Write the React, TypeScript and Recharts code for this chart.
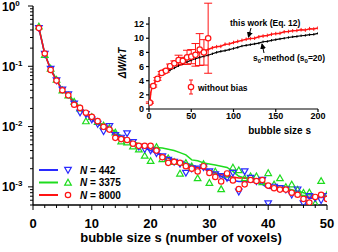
import React from "react";
import { LineChart, Line, XAxis, YAxis, ErrorBar } from "recharts";

// main plot: bubble size distribution (log scale)
const sizes = [
  1, 2, 3, 4, 5, 6, 7, 8, 9, 10, 11, 12, 13, 14, 15, 16, 17, 18, 19, 20, 21, 22, 23, 24, 25,
  26, 27, 28, 29, 30, 31, 32, 33, 34, 35, 36, 37, 38, 39, 40, 41, 42, 43, 44, 45, 46, 47, 48, 49, 50,
];

const n442Points = [
  0.43, 0.16, 0.09, 0.058, 0.041, 0.034, 0.024, 0.017, 0.016, 0.013, 0.011, 0.0083, 0.0101, 0.0072, 0.0065,
  0.0077, 0.0055, 0.0046, 0.0042, 0.004, 0.0036, 0.0032, 0.0028, 0.0026, 0.0024, 0.0017, 0.002, 0.002, 0.0021,
  0.0018, 0.0016, 0.0015, 0.0014, 0.0017, 0.00083, 0.0018, 0.0014, 0.00123, 0.0013, 0.00053, 0.001, 0.00095,
  0.0009, 0.00074, 0.0009, 0.00053, 0.0007, 0.00065, 0.0006, 0.0007,
];
const n442Line = [
  0.43, 0.16, 0.09, 0.058, 0.041, 0.034, 0.024, 0.019, 0.016, 0.013, 0.0112, 0.0095, 0.0085, 0.0075, 0.0068,
  0.0062, 0.0055, 0.0049, 0.0044, 0.004, 0.0036, 0.0033, 0.003, 0.0028, 0.0026, 0.0025, 0.0023, 0.0021, 0.002,
  0.0019, 0.0017, 0.0015, 0.0013, 0.00128, 0.00123, 0.00123, 0.0012, 0.0012, 0.0011, 0.00095, 0.00093, 0.00092,
  0.0009, 0.00085, 0.00078, 0.0007, 0.00065, 0.00065, 0.00068, 0.0007,
];

const n3375Points = [
  0.46, 0.155, 0.092, 0.06, 0.04, 0.033, 0.026, 0.02, 0.0123, 0.0145, 0.012, 0.0105, 0.0095, 0.008, 0.0057,
  0.0055, 0.0047, 0.0042, 0.0033, 0.0027, 0.0046, 0.0029, 0.003, 0.0026, 0.00167, 0.0025, 0.0022, 0.0014, 0.0024,
  0.00117, 0.0018, 0.00092, 0.0016, 0.0021, 0.0019, 0.0014, 0.0015, 0.0015, 0.0012, 0.0017, 0.0011, 0.0014,
  0.001, 0.0011, 0.0009, 0.0008, 0.00081, 0.00053, 0.00126, 0.00074,
];
const n3375Line = [
  0.45, 0.157, 0.092, 0.06, 0.041, 0.034, 0.026, 0.021, 0.017, 0.0145, 0.012, 0.0105, 0.0095, 0.0082, 0.007,
  0.0062, 0.0056, 0.0052, 0.0048, 0.0046, 0.0045, 0.0044, 0.0042, 0.004, 0.0037, 0.0034, 0.0028, 0.0027, 0.0025,
  0.0024, 0.0023, 0.0022, 0.0021, 0.0018, 0.0015, 0.0014, 0.00138, 0.00135, 0.0012, 0.001, 0.001, 0.00098,
  0.00095, 0.0009, 0.00085, 0.0008, 0.00075, 0.00072, 0.0007, 0.00068,
];

const n8000Points = [
  0.43, 0.163, 0.087, 0.058, 0.04, 0.033, 0.023, 0.0204, 0.017, 0.0145, 0.0123, 0.0099, 0.0089, 0.0065, 0.0062,
  0.006, 0.0052, 0.0048, 0.0048, 0.0048, 0.004, 0.0031, 0.0025, 0.0026, 0.0025, 0.0022, 0.002, 0.0018, 0.0022,
  0.0017, 0.00146, 0.00123, 0.00167, 0.00128, 0.00092, 0.0011, 0.0013, 0.00125, 0.0013, 0.00105, 0.00095, 0.0009,
  0.0009, 0.0008, 0.00074, 0.00063, 0.00055, 0.00068, 0.00074, 0.00063,
];
const n8000Line = [
  0.43, 0.163, 0.087, 0.058, 0.04, 0.033, 0.024, 0.0204, 0.017, 0.0145, 0.0123, 0.0102, 0.0089, 0.0072, 0.0065,
  0.006, 0.0055, 0.005, 0.0047, 0.0043, 0.0038, 0.0034, 0.003, 0.0028, 0.0026, 0.0024, 0.0022, 0.0021, 0.002,
  0.0018, 0.0017, 0.0016, 0.0015, 0.00146, 0.0014, 0.0014, 0.00138, 0.00136, 0.0013, 0.00098, 0.00095, 0.00093,
  0.0009, 0.00085, 0.00074, 0.0007, 0.00067, 0.00067, 0.0007, 0.0007,
];

const xTicks = [0, 2, 4, 6, 8, 10, 12, 14, 16, 18, 20, 22, 24, 26, 28, 30, 32, 34, 36, 38, 40, 42, 44, 46, 48, 50];
const yDecades = [-4, -3, -2, -1];

// inset: work of bubble formation
const workSizes = [
  1, 2, 3, 5, 7, 10, 12, 15, 17, 20, 22, 25, 27, 30, 35, 40, 45, 50, 55, 60, 65, 70, 75, 80, 85, 90, 95, 100,
  105, 110, 115, 120, 125, 130, 135, 140, 145, 150, 155, 160, 165, 170, 175, 180, 185, 190, 195, 200,
];
const workValues = [
  0.9, 2.2, 2.8, 3.3, 3.8, 4.3, 4.6, 5.0, 5.2, 5.4, 5.7, 6.0, 6.2, 6.45, 6.8, 7.1, 7.35, 7.6, 7.85, 8.05, 8.25,
  8.4, 8.65, 8.8, 8.85, 9.15, 9.2, 9.4, 9.55, 9.7, 9.85, 9.95, 10.0, 10.2, 10.3, 10.4, 10.55, 10.65, 10.7, 10.9,
  10.95, 11.05, 11.1, 11.2, 11.15, 11.35, 11.3, 11.45,
];
const s0Sizes = [
  20, 25, 30, 35, 40, 45, 50, 55, 60, 65, 70, 75, 80, 85, 90, 95, 100, 105, 110, 115, 120, 125, 130, 135, 140,
  145, 150, 155, 160, 165, 170, 175, 180, 185, 190, 195, 200,
];
const s0Values = [
  5.2, 5.5, 5.8, 6.1, 6.4, 6.65, 6.9, 7.1, 7.3, 7.45, 7.6, 7.8, 8.0, 8.15, 8.25, 8.4, 8.55, 8.7, 8.9, 9.0, 9.1,
  9.2, 9.3, 9.5, 9.55, 9.7, 9.8, 9.9, 10.0, 10.1, 10.2, 10.25, 10.35, 10.4, 10.5, 10.55, 10.7,
];
const unbiasedSizes = [1, 5, 10, 15, 20, 25, 30, 35, 40, 45, 50, 55, 60, 65, 70];
const unbiasedValues = [0.9, 3.25, 4.25, 5.1, 5.4, 6.05, 6.45, 6.9, 6.8, 7.3, 7.4, 7.65, 8.4, 8.0, 10.0];
const unbiasedErrors = [0.1, 0.15, 0.2, 0.2, 0.2, 0.3, 0.35, 0.7, 0.5, 1.0, 1.0, 1.6, 2.25, 1.8, 4.95];

const insetYTicks = [0, 2, 4, 6, 8, 10, 12];
const insetXTicks = [0, 50, 100, 150, 200];

const BLUE = "#2a2aff";
const GREEN = "#1edc1e";
const RED = "#ff1414";
const FONT = "'Liberation Sans', Arial, sans-serif";

const mainRows = sizes.map((s, i) => ({
  s,
  bP: n442Points[i],
  bL: n442Line[i],
  gP: n3375Points[i],
  gL: n3375Line[i],
  rP: n8000Points[i],
  rL: n8000Line[i],
}));
const workRows = workSizes.map((s, i) => ({ s, v: workValues[i] }));
const s0Rows = s0Sizes.map((s, i) => ({ s, v: s0Values[i] }));
const unbiasedRows = unbiasedSizes.map((s, i) => ({ s, v: unbiasedValues[i], err: unbiasedErrors[i] }));

const yTicks: number[] = [];
yDecades.forEach((d) => {
  for (let m = 1; m < 10; m++) {
    const v = +(m * Math.pow(10, d)).toPrecision(6);
    if (v >= 0.0005 && v <= 1) yTicks.push(v);
  }
});
yTicks.push(1);

function TriDown({ cx, cy, color }: any) {
  return <polygon points={`${cx - 3.3},${cy - 2.6} ${cx + 3.3},${cy - 2.6} ${cx},${cy + 3.2}`} fill="none" stroke={color} strokeWidth={1.2} />;
}
function TriUp({ cx, cy, color }: any) {
  return <polygon points={`${cx - 3.3},${cy + 2.6} ${cx + 3.3},${cy + 2.6} ${cx},${cy - 3.2}`} fill="none" stroke={color} strokeWidth={1.2} />;
}
function Ring({ cx, cy, color }: any) {
  return <circle cx={cx} cy={cy} r={2.7} fill="#fff" stroke={color} strokeWidth={1.2} />;
}

const dotWith = (Shape: any, color: string) => (p: any) => {
  if (p.cx == null || p.cy == null || p.value == null) return <g key={p.index} />;
  return <Shape key={p.index} cx={p.cx} cy={p.cy} color={color} />;
};

const tickMark = (color: string, h: number) => (p: any) => {
  if (p.cx == null || p.cy == null) return <g key={p.index} />;
  return <line key={p.index} x1={p.cx} x2={p.cx} y1={p.cy - h} y2={p.cy + h} stroke={color} strokeWidth={1} />;
};

function MainXTick({ x, y, payload }: any) {
  const major = payload.value % 10 === 0;
  return (
    <g>
      <line x1={x} x2={x} y1={y} y2={y + (major ? 5 : 3)} stroke="#000" strokeWidth={1} />
      {major && (
        <text x={x} y={y + 23} textAnchor="middle" fontSize={13} fontWeight="bold" fontFamily={FONT} fill="#000">
          {payload.value}
        </text>
      )}
    </g>
  );
}

function MainYTick({ x, y, payload }: any) {
  const v = payload.value;
  const exp = Math.round(Math.log10(v));
  const major = Math.abs(v / Math.pow(10, exp) - 1) < 1e-6;
  return (
    <g>
      <line x1={x - (major ? 5 : 3)} x2={x} y1={y} y2={y} stroke="#000" strokeWidth={1} />
      {major && (
        <text x={x - 31} y={y + 4.5} fontSize={12} fontWeight="bold" fontFamily={FONT} fill="#000">
          10
          <tspan dy={-5} fontSize={8}>
            {exp}
          </tspan>
        </text>
      )}
    </g>
  );
}

const insetTick = { fontSize: 9, fontWeight: "bold", fill: "#000", fontFamily: FONT };

export default function App() {
  const legend = [
    { label: "442", color: BLUE, Shape: TriDown },
    { label: "3375", color: GREEN, Shape: TriUp },
    { label: "8000", color: RED, Shape: Ring },
  ];
  return (
    <div style={{ position: "absolute", left: 0, top: 0, width: 338, height: 252, background: "#fff", fontFamily: FONT }}>
      <div style={{ position: "absolute", left: 0, top: 0 }}>
        <LineChart width={338} height={252} data={mainRows} margin={{ top: 6, right: 11, bottom: 17, left: 0 }}>
          <XAxis
            dataKey="s"
            type="number"
            domain={[0, 50]}
            ticks={xTicks}
            interval={0}
            tick={<MainXTick />}
            tickLine={false}
            tickSize={0}
            tickMargin={0}
            height={30}
            stroke="#000"
            strokeWidth={1.3}
            allowDataOverflow
          />
          <XAxis xAxisId="top" orientation="top" type="number" domain={[0, 50]} tick={false} tickLine={false} height={0} stroke="#000" strokeWidth={1.3} />
          <YAxis
            type="number"
            scale="log"
            domain={[0.0005, 1]}
            ticks={yTicks}
            interval={0}
            tick={<MainYTick />}
            tickLine={false}
            tickSize={0}
            tickMargin={0}
            width={33}
            stroke="#000"
            strokeWidth={1.3}
            allowDataOverflow
          />
          <YAxis yAxisId="right" orientation="right" type="number" domain={[0, 1]} tick={false} tickLine={false} width={0} stroke="#000" strokeWidth={1.3} />
          <Line dataKey="gL" stroke={GREEN} strokeWidth={1.5} dot={false} isAnimationActive={false} />
          <Line dataKey="bL" stroke={BLUE} strokeWidth={1.5} dot={false} isAnimationActive={false} />
          <Line dataKey="rL" stroke={RED} strokeWidth={1.5} dot={false} isAnimationActive={false} />
          <Line dataKey="gP" stroke="none" dot={dotWith(TriUp, GREEN)} isAnimationActive={false} />
          <Line dataKey="bP" stroke="none" dot={dotWith(TriDown, BLUE)} isAnimationActive={false} />
          <Line dataKey="rP" stroke="none" dot={dotWith(Ring, RED)} isAnimationActive={false} />
        </LineChart>
      </div>

      <div style={{ position: "absolute", left: 120, top: 0 }}>
        <LineChart width={218} height={140} margin={{ top: 17, right: 20, bottom: 0, left: 0 }}>
          <XAxis
            dataKey="s"
            type="number"
            domain={[0, 200]}
            ticks={insetXTicks}
            interval={0}
            tick={insetTick}
            tickSize={3}
            tickMargin={1}
            height={31}
            stroke="#000"
            strokeWidth={1.2}
            allowDataOverflow
          />
          <YAxis
            type="number"
            domain={[0, 13]}
            ticks={insetYTicks}
            interval={0}
            tick={insetTick}
            tickSize={3}
            tickMargin={2}
            width={29}
            stroke="#000"
            strokeWidth={1.2}
            allowDataOverflow
          />
          <Line data={s0Rows} dataKey="v" stroke="#000" strokeWidth={1.2} dot={tickMark("#000", 1.2)} isAnimationActive={false} />
          <Line data={workRows} dataKey="v" stroke={RED} strokeWidth={1.5} dot={tickMark(RED, 1.8)} isAnimationActive={false} />
          <Line data={unbiasedRows} dataKey="v" stroke="none" dot={dotWith(Ring, RED)} isAnimationActive={false}>
            <ErrorBar dataKey="err" width={4} stroke={RED} strokeWidth={1} direction="y" />
          </Line>
        </LineChart>
      </div>

      <svg width={338} height={252} style={{ position: "absolute", left: 0, top: 0, pointerEvents: "none" }} fontFamily={FONT}>
        <defs>
          <marker id="ah" markerWidth="6" markerHeight="6" refX="5" refY="3" orient="auto">
            <path d="M0,0 L6,3 L0,6 z" fill="#000" />
          </marker>
        </defs>
        <text x={181} y={242} textAnchor="middle" fontSize={13} fontWeight="bold" fill="#000">
          bubble size s (number of voxels)
        </text>
        {legend.map((l, i) => {
          const y = 170 + i * 12.5;
          const S = l.Shape;
          return (
            <g key={l.label}>
              <line x1={39} x2={58} y1={y} y2={y} stroke={l.color} strokeWidth={2} />
              <S cx={68} cy={y} color={l.color} />
              <text x={80} y={y + 3.5} fontSize={10} fontWeight="bold" fill="#000">
                <tspan fontStyle="italic">N</tspan> = {l.label}
              </text>
            </g>
          );
        })}

        <text x={311} y={133.5} textAnchor="end" fontSize={10} fontWeight="bold" fill="#000">
          bubble size s
        </text>
        <text x={126} y={63} textAnchor="middle" fontSize={10} fontWeight="bold" fontStyle="italic" fill="#000" transform="rotate(-90 126 63)">
          ΔW/kT
        </text>
        <text x={230} y={26} fontSize={8.5} fontWeight="bold" fill="#000">
          this work (Eq. 12)
        </text>
        <line x1={251} y1={28} x2={248.5} y2={37} stroke="#000" strokeWidth={1} markerEnd="url(#ah)" />
        <text x={253} y={61} fontSize={8.5} fontWeight="bold" fill="#000">
          s<tspan fontSize={6} dy={2}>0</tspan>
          <tspan dy={-2}>-method (s</tspan>
          <tspan fontSize={6} dy={2}>0</tspan>
          <tspan dy={-2}>=20)</tspan>
        </text>
        <line x1={264} y1={53} x2={262} y2={44} stroke="#000" strokeWidth={1} markerEnd="url(#ah)" />

        <line x1={191} x2={191} y1={80} y2={94} stroke={RED} strokeWidth={1} />
        <line x1={189} x2={193} y1={80} y2={80} stroke={RED} strokeWidth={1} />
        <line x1={189} x2={193} y1={94} y2={94} stroke={RED} strokeWidth={1} />
        <Ring cx={191} cy={87} color={RED} />
        <text x={198} y={90.5} fontSize={8.5} fontWeight="bold" fill="#000">
          without bias
        </text>
      </svg>
    </div>
  );
}
